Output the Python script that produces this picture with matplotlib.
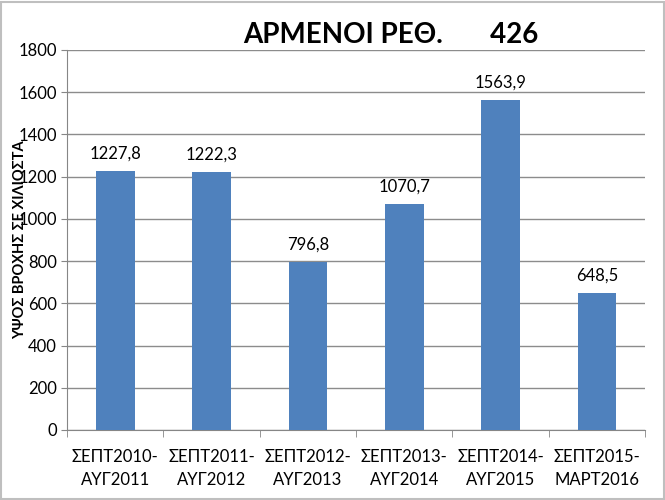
import matplotlib.pyplot as plt

# data
periods = ["ΣΕΠΤ2010-\nΑΥΓ2011", "ΣΕΠΤ2011-\nΑΥΓ2012", "ΣΕΠΤ2012-\nΑΥΓ2013",
           "ΣΕΠΤ2013-\nΑΥΓ2014", "ΣΕΠΤ2014-\nΑΥΓ2015", "ΣΕΠΤ2015-\nΜΑΡΤ2016"]
rain_mm = [1227.8, 1222.3, 796.8, 1070.7, 1563.9, 648.5]
value_labels = ["1227,8", "1222,3", "796,8", "1070,7", "1563,9", "648,5"]
y_ticks = [0, 200, 400, 600, 800, 1000, 1200, 1400, 1600, 1800]

plt.rcParams["font.family"] = ["Lato", "DejaVu Sans"]

fig = plt.figure(figsize=(6.65, 5), dpi=100)
ax = fig.add_axes([0.101, 0.14, 0.869, 0.76])

x = list(range(len(periods)))
bars = ax.bar(x, rain_mm, width=0.4, color="#4F81BD", zorder=3)

for b, lbl in zip(bars, value_labels):
    ax.text(b.get_x() + b.get_width() / 2, b.get_height() + 45, lbl,
            ha="center", va="bottom", fontsize=12)

ax.set_xlim(-0.5, len(periods) - 0.5)
ax.set_ylim(0, 1800)
ax.set_yticks(y_ticks)
ax.tick_params(axis="y", labelsize=12, length=4, color="#868686")
ax.grid(axis="y", color="#8C8C8C", linewidth=1, zorder=0)

# category ticks sit between the bars
ax.set_xticks([i + 0.5 for i in range(-1, len(periods))], minor=True)
ax.set_xticks(x)
ax.set_xticklabels(periods, fontsize=12, linespacing=1.5)
ax.tick_params(axis="x", which="major", length=0, pad=14)
ax.tick_params(axis="x", which="minor", length=5, color="#868686")

for side in ["top", "right"]:
    ax.spines[side].set_visible(False)
ax.spines["left"].set_color("#868686")
ax.spines["bottom"].set_color("#868686")

fig.text(0.587, 0.93, "ΑΡΜΕΝΟΙ ΡΕΘ.       426", ha="center", va="center",
         fontsize=20, fontweight="bold")
fig.text(0.03, 0.52, "ΥΨΟΣ ΒΡΟΧΗΣ ΣΕ ΧΙΛΙΟΣΤΑ", ha="center", va="center",
         rotation=90, fontsize=10.5, fontweight="bold")

# grey frame round the whole chart
fig.patches.append(plt.Rectangle((0.002, 0.003), 0.996, 0.994, transform=fig.transFigure,
                                 fill=False, edgecolor="#BFBFBF", linewidth=1.5))

fig.savefig("out.png", dpi=100)
